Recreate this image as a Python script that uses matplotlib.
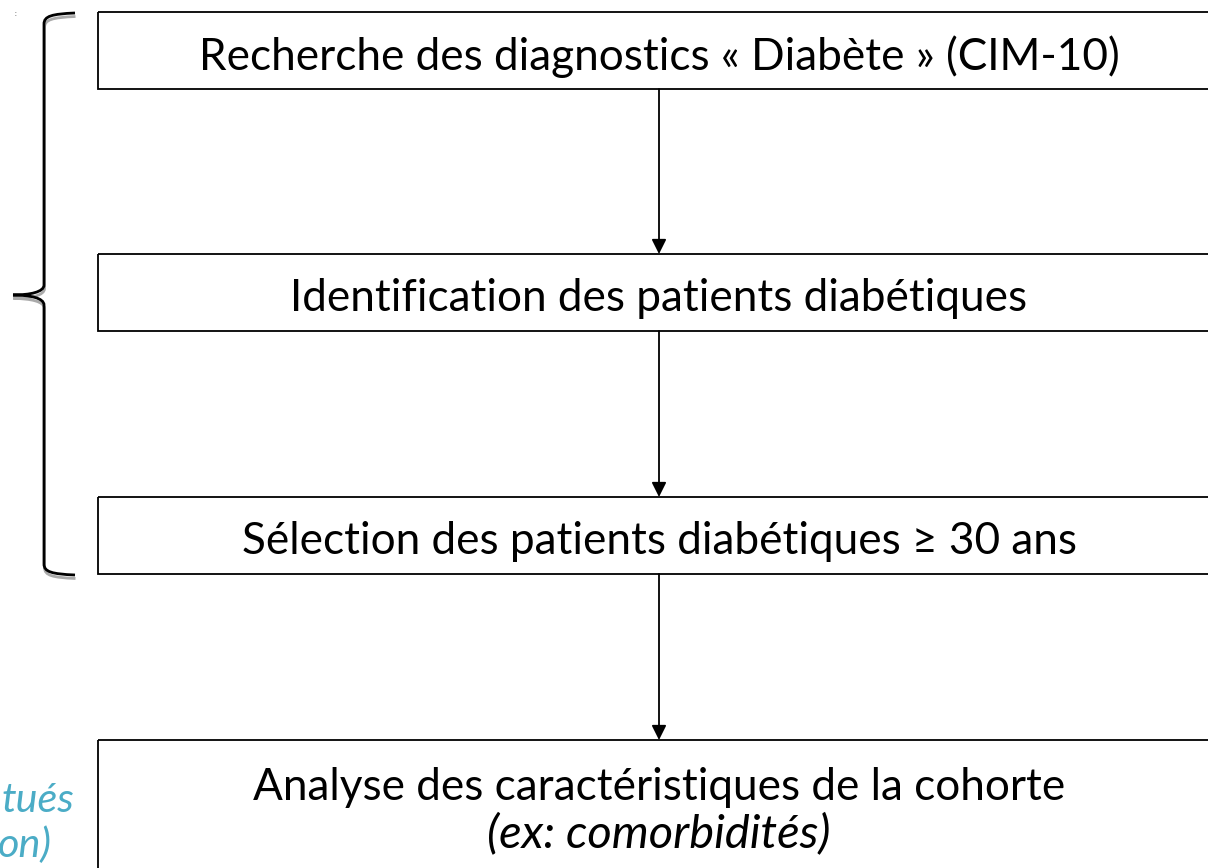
import matplotlib
matplotlib.use("Agg")
import matplotlib.pyplot as plt
from matplotlib.path import Path
from matplotlib.patches import PathPatch, Rectangle, FancyArrowPatch

plt.rcParams['font.family'] = ['Lato', 'DejaVu Sans']

box_labels = [
    "Recherche des diagnostics « Diabète » (CIM-10)",
    "Identification des patients diabétiques",
    "Sélection des patients diabétiques ≥ 30 ans",
    "Analyse des caractéristiques de la cohorte",
]
box_sublabel = "(ex: comorbidités)"
side_lines = ["tués", "on)"]
teal = "#4BACC6"

W, H = 1208, 868
fig = plt.figure(figsize=(W / 100, H / 100), dpi=100)
ax = fig.add_axes([0, 0, 1, 1])
ax.set_xlim(0, W)
ax.set_ylim(H, 0)
ax.axis("off")

box_x0, box_x1 = 98, 1240
box_tops = [12, 254, 497, 740]
box_h = [77, 77, 77, 160]
cx = 659
fs = 31.8

for i, (lab, top, h) in enumerate(zip(box_labels, box_tops, box_h)):
    ax.add_patch(Rectangle((box_x0, top), box_x1 - box_x0, h, fill=False,
                           edgecolor="black", lw=1.3, clip_on=False))
    if i < 3:
        ax.text(cx, top + h / 2 + 6, lab, ha="center", va="center", fontsize=fs)
    else:
        ax.text(cx, 788, lab, ha="center", va="center", fontsize=fs)
        ax.text(cx, 834, box_sublabel, ha="center", va="center", fontsize=fs + 2,
                style="italic")

for i in range(3):
    y0 = box_tops[i] + box_h[i]
    y1 = box_tops[i + 1]
    ax.add_patch(FancyArrowPatch((cx, y0), (cx, y1), arrowstyle="-|>",
                                 mutation_scale=22, lw=1.3, color="black",
                                 shrinkA=0, shrinkB=0))

def brace(dx, dy, color, lw):
    verts = [
        (75 + dx, 13 + dy),
        (52 + dx, 14 + dy), (44 + dx, 16 + dy), (44 + dx, 24 + dy),
        (44 + dx, 285 + dy),
        (44 + dx, 292 + dy), (30 + dx, 295 + dy), (13 + dx, 295 + dy),
        (30 + dx, 295 + dy), (44 + dx, 298 + dy), (44 + dx, 305 + dy),
        (44 + dx, 564 + dy),
        (44 + dx, 572 + dy), (52 + dx, 574 + dy), (75 + dx, 575 + dy),
    ]
    codes = [Path.MOVETO,
             Path.CURVE4, Path.CURVE4, Path.CURVE4,
             Path.LINETO,
             Path.CURVE4, Path.CURVE4, Path.CURVE4,
             Path.CURVE4, Path.CURVE4, Path.CURVE4,
             Path.LINETO,
             Path.CURVE4, Path.CURVE4, Path.CURVE4]
    ax.add_patch(PathPatch(Path(verts, codes), fill=False, edgecolor=color,
                           lw=lw, capstyle="butt"))

brace(0.5, 3.5, "#aaaaaa", 2.0)
brace(0, 0, "black", 2.0)

ax.text(15, 13, ":", fontsize=5, color="#555555", ha="center", va="center")

ax.text(74, 800, side_lines[0], ha="right", va="center", fontsize=fs - 2,
        style="italic", color=teal)
ax.text(52, 845, side_lines[1], ha="right", va="center", fontsize=fs - 2,
        style="italic", color=teal)

fig.savefig("out.png", dpi=100)
